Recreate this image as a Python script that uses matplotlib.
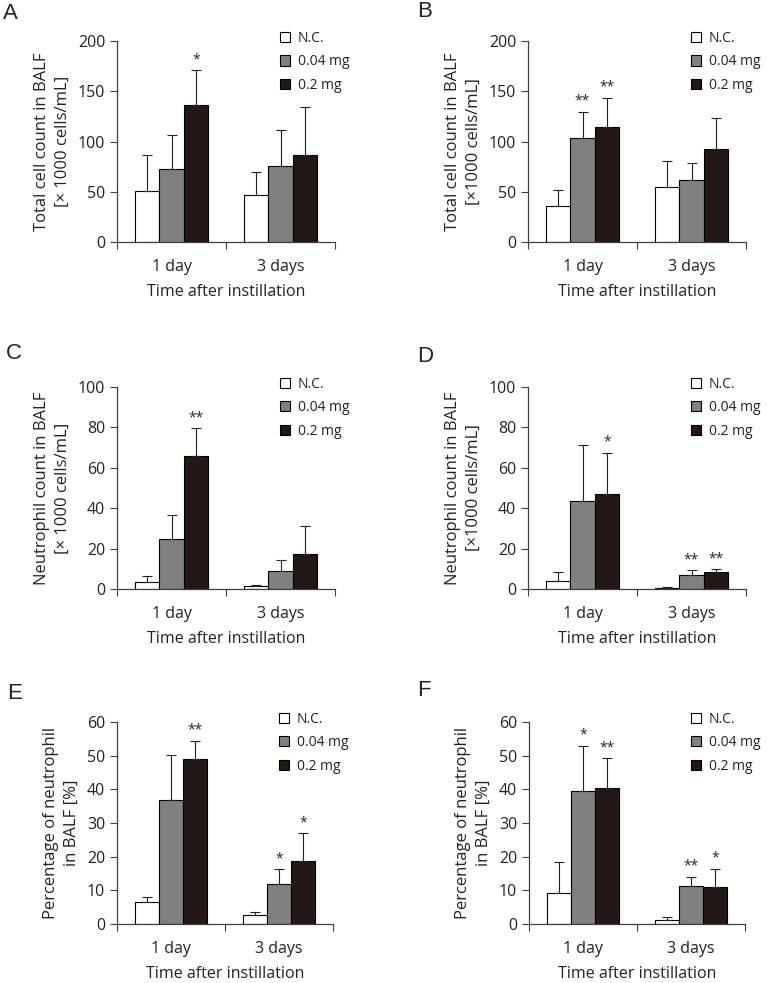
import numpy as np
import matplotlib.pyplot as plt

plt.rcParams['font.family'] = ['Open Sans', 'DejaVu Sans']
plt.rcParams['font.size'] = 11
plt.rcParams['text.color'] = '#222222'
plt.rcParams['axes.labelcolor'] = '#222222'
plt.rcParams['xtick.color'] = '#404040'
plt.rcParams['ytick.color'] = '#404040'
plt.rcParams['xtick.labelcolor'] = '#222222'
plt.rcParams['ytick.labelcolor'] = '#222222'

days = ['1 day', '3 days']
groups = ['N.C.', '0.04 mg', '0.2 mg']
colors = ['white', '#808080', '#231815']

# mean values, one list per group: [1 day, 3 days]
a_mean = [[51, 46.4], [72.5, 75.8], [136.8, 86.4]]
a_sd = [[35.4, 23.5], [33.5, 35.2], [34.1, 48.4]]
a_sig = [['', ''], ['', ''], ['*', '']]

b_mean = [[36, 55], [103.3, 61.6], [114.9, 92.4]]
b_sd = [[16, 25.5], [26.2, 16.9], [28.5, 31.4]]
b_sig = [['', ''], ['**', ''], ['**', '']]

c_mean = [[3.5, 1.3], [25, 8.8], [65.9, 17.2]]
c_sd = [[2.8, 0.5], [11.4, 5.4], [13.6, 14.1]]
c_sig = [['', ''], ['', ''], ['**', '']]

d_mean = [[4, 0.5], [43.5, 6.8], [47, 8.3]]
d_sd = [[4.4, 0.3], [27.7, 2.5], [20.5, 1.5]]
d_sig = [['', ''], ['', '**'], ['*', '**']]

e_mean = [[6.5, 2.8], [36.9, 11.9], [48.9, 18.6]]
e_sd = [[1.5, 0.8], [13.4, 4.3], [5.6, 8.3]]
e_sig = [['', ''], ['', '*'], ['**', '*']]

f_mean = [[9.2, 1.3], [39.4, 11.4], [40.3, 11]]
f_sd = [[9.1, 0.9], [13.6, 2.7], [8.9, 5.4]]
f_sig = [['', ''], ['*', '**'], ['**', '*']]

W, H = 767, 983
fig = plt.figure(figsize=(W / 100, H / 100), dpi=100)


def panel(box, letter, letter_xy, mean, sd, sig, ymax, ystep, ylabel):
    l, t, r, b = box
    ax = fig.add_axes([l / W, 1 - b / H, (r - l) / W, (b - t) / H])
    x = np.arange(len(days))
    w = 0.223
    for i, g in enumerate(groups):
        xs = x + (i - 1) * w
        ax.bar(xs, mean[i], w, color=colors[i], edgecolor='black',
               linewidth=0.8, label=g, zorder=2)
        ax.errorbar(xs, mean[i], yerr=[np.zeros(len(days)), sd[i]], fmt='none',
                    ecolor='#222222', elinewidth=0.8, capsize=3.5, capthick=0.8,
                    zorder=3)
        for xi, m, s, st in zip(xs, mean[i], sd[i], sig[i]):
            if st:
                ax.annotate(st, (xi, m + s), xytext=(0, 5), textcoords='offset points',
                            ha='center', va='baseline', fontsize=10)
    ax.set_xlim(-0.5, 1.5)
    ax.set_ylim(0, ymax)
    ax.set_yticks(np.arange(0, ymax + 0.1, ystep))
    ax.set_xticks(x)
    ax.set_xticklabels(days)
    ax.set_xticks([-0.5, 0.5, 1.5], minor=True)
    ax.tick_params(axis='x', which='major', length=0, pad=12, labelsize=11.5)
    ax.tick_params(axis='x', which='minor', length=5, width=0.8, direction='out')
    ax.tick_params(axis='y', length=5, width=0.8, pad=3.5, labelsize=11.5)
    for s in ['top', 'right']:
        ax.spines[s].set_visible(False)
    for s in ['left', 'bottom']:
        ax.spines[s].set_color('#404040')
        ax.spines[s].set_linewidth(0.9)
    ax.set_xlabel('Time after instillation', labelpad=7, fontsize=11.5)
    ax.set_ylabel(ylabel, labelpad=5, linespacing=1.4, fontsize=12)
    ax.legend(loc='upper left', bbox_to_anchor=(0.748, 1.05), frameon=False,
              borderpad=0, borderaxespad=0, handlelength=0.75, handleheight=0.75,
              handletextpad=0.55, labelspacing=0.6, fontsize=10)
    fig.text(letter_xy[0] / W, 1 - letter_xy[1] / H, letter, fontsize=16,
             family='Liberation Sans', ha='left', va='top', color='#222222')
    return ax


panel((117, 41, 335, 242), 'A', (3, 3), a_mean, a_sd, a_sig, 200, 50,
      'Total cell count in BALF\n[\u00d7 1000 cells/mL]')
panel((528, 41, 746, 242), 'B', (417, 1), b_mean, b_sd, b_sig, 200, 50,
      'Total cell count in BALF\n[\u00d71000 cells/mL]')
panel((117, 387, 335, 589), 'C', (6, 343), c_mean, c_sd, c_sig, 100, 20,
      'Neutrophil count in BALF\n[\u00d7 1000 cells/mL]')
panel((528, 387, 746, 589), 'D', (417, 346), d_mean, d_sd, d_sig, 100, 20,
      'Neutrophil count in BALF\n[\u00d71000 cells/mL]')
panel((117, 722, 333, 924), 'E', (7, 683), e_mean, e_sd, e_sig, 60, 10,
      'Percentage of neutrophil\nin BALF [%]')
panel((529, 722, 745, 924), 'F', (417, 680), f_mean, f_sd, f_sig, 60, 10,
      'Percentage of neutrophil\nin BALF [%]')

fig.savefig('out.png', dpi=100)
